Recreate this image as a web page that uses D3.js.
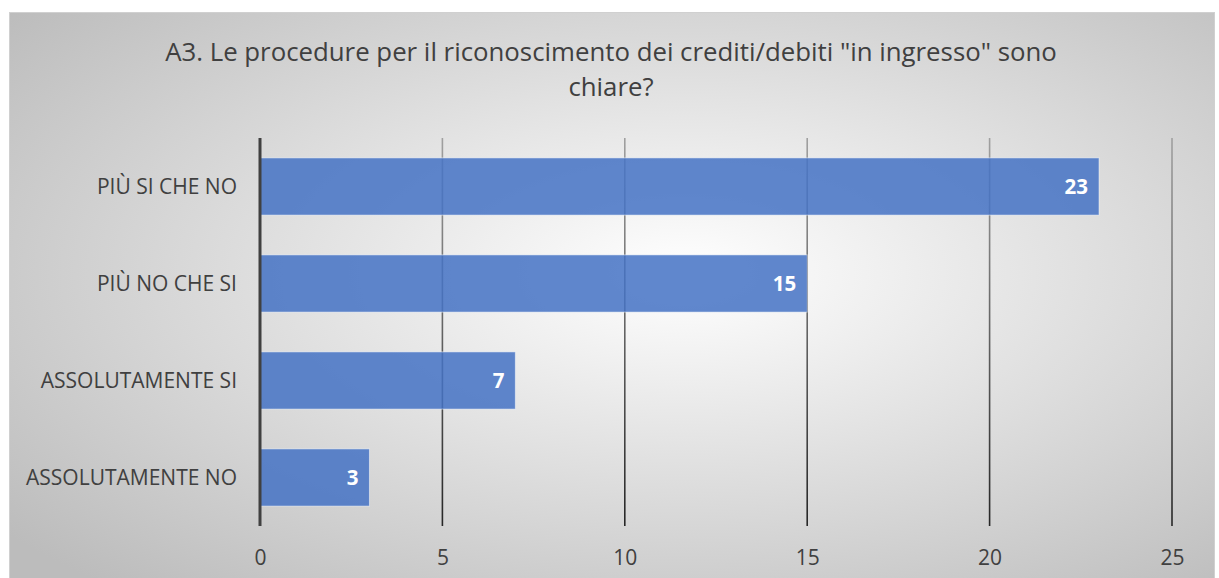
<!DOCTYPE html>
<html>
<head>
<meta charset="utf-8">
<script src="https://cdn.jsdelivr.net/npm/d3@7"></script>
<style>
  body { margin: 0; background: #fff; }
  svg { display: block; }
</style>
</head>
<body>
<div id="chart"></div>
<script>
const categories = ["PIÙ SI CHE NO", "PIÙ NO CHE SI", "ASSOLUTAMENTE SI", "ASSOLUTAMENTE NO"];
const values = [23, 15, 7, 3];
const xTicks = [0, 5, 10, 15, 20, 25];
const titleLines = ['A3. Le procedure per il riconoscimento dei crediti/debiti "in ingresso" sono', "chiare?"];

const W = 1219, H = 578;
const font = "'Open Sans', 'Noto Sans', sans-serif";

const svg = d3.select("#chart").append("svg")
    .attr("width", W)
    .attr("height", H);

const defs = svg.append("defs");

// chart background: white in the middle, grey towards the edges
const bg = defs.append("radialGradient")
    .attr("id", "bg")
    .attr("cx", "0.56").attr("cy", "0.45").attr("r", "0.72");
bg.append("stop").attr("offset", "0%").attr("stop-color", "#ffffff");
bg.append("stop").attr("offset", "100%").attr("stop-color", "#bcbcbc");

svg.append("rect")
    .attr("x", 9.5).attr("y", 12.5)
    .attr("width", 1205).attr("height", 580)
    .attr("fill", "url(#bg)")
    .attr("stroke", "#d0d0d0");

const margin = { top: 138, left: 260, right: W - 1172, bottom: H - 526 };

// gridlines fade from grey at the top to dark at the bottom
const gg = defs.append("linearGradient")
    .attr("id", "grid")
    .attr("gradientUnits", "userSpaceOnUse")
    .attr("x1", 0).attr("y1", margin.top)
    .attr("x2", 0).attr("y2", H - margin.bottom);
gg.append("stop").attr("offset", "0%").attr("stop-color", "#a0a0a0");
gg.append("stop").attr("offset", "100%").attr("stop-color", "#262626");

const x = d3.scaleLinear()
    .domain([0, 25])
    .range([margin.left, W - margin.right]);

const y = d3.scaleBand()
    .domain(categories)
    .range([margin.top, H - margin.bottom])
    .paddingInner(0.41)
    .paddingOuter(0.205);

// title
svg.append("text")
    .attr("text-anchor", "middle")
    .attr("font-family", font)
    .attr("font-size", 25.8)
    .attr("fill", "#404040")
    .selectAll("tspan")
    .data(titleLines)
    .join("tspan")
    .attr("x", 611)
    .attr("y", (d, i) => 61 + i * 35)
    .text(d => d);

// vertical gridlines
svg.append("g")
    .selectAll("line")
    .data(xTicks.filter(d => d > 0))
    .join("line")
    .attr("x1", d => x(d)).attr("x2", d => x(d))
    .attr("y1", margin.top).attr("y2", H - margin.bottom)
    .attr("stroke", "url(#grid)")
    .attr("stroke-width", 1.6);

// bars
svg.append("g")
    .selectAll("rect")
    .data(values)
    .join("rect")
    .attr("x", x(0))
    .attr("y", (d, i) => y(categories[i]))
    .attr("width", d => x(d) - x(0))
    .attr("height", y.bandwidth())
    .attr("fill", "#4472c4")
    .attr("fill-opacity", 0.85)
    .attr("stroke", "#ffffff")
    .attr("stroke-opacity", 0.5)
    .attr("stroke-width", 1);

// value labels
svg.append("g")
    .selectAll("text")
    .data(values)
    .join("text")
    .attr("x", d => x(d) - 11)
    .attr("y", (d, i) => y(categories[i]) + y.bandwidth() / 2)
    .attr("dy", "0.36em")
    .attr("text-anchor", "end")
    .attr("font-family", font)
    .attr("font-weight", "bold")
    .attr("font-size", 20.5)
    .attr("fill", "#ffffff")
    .text(d => d);

// y axis line
svg.append("line")
    .attr("x1", x(0)).attr("x2", x(0))
    .attr("y1", margin.top).attr("y2", H - margin.bottom)
    .attr("stroke", "#404040")
    .attr("stroke-width", 3);

// category labels
svg.append("g")
    .selectAll("text")
    .data(categories)
    .join("text")
    .attr("x", 237)
    .attr("y", d => y(d) + y.bandwidth() / 2)
    .attr("dy", "0.36em")
    .attr("text-anchor", "end")
    .attr("font-family", font)
    .attr("font-size", 21)
    .attr("fill", "#404040")
    .text(d => d);

// x tick labels
const xAxis = svg.append("g")
    .attr("transform", `translate(0,${H - margin.bottom})`)
    .call(d3.axisBottom(x).tickValues(xTicks).tickSize(0).tickPadding(24));
xAxis.select(".domain").remove();
xAxis.selectAll("text")
    .attr("font-family", font)
    .attr("font-size", 21)
    .attr("fill", "#404040");
</script>
</body>
</html>
